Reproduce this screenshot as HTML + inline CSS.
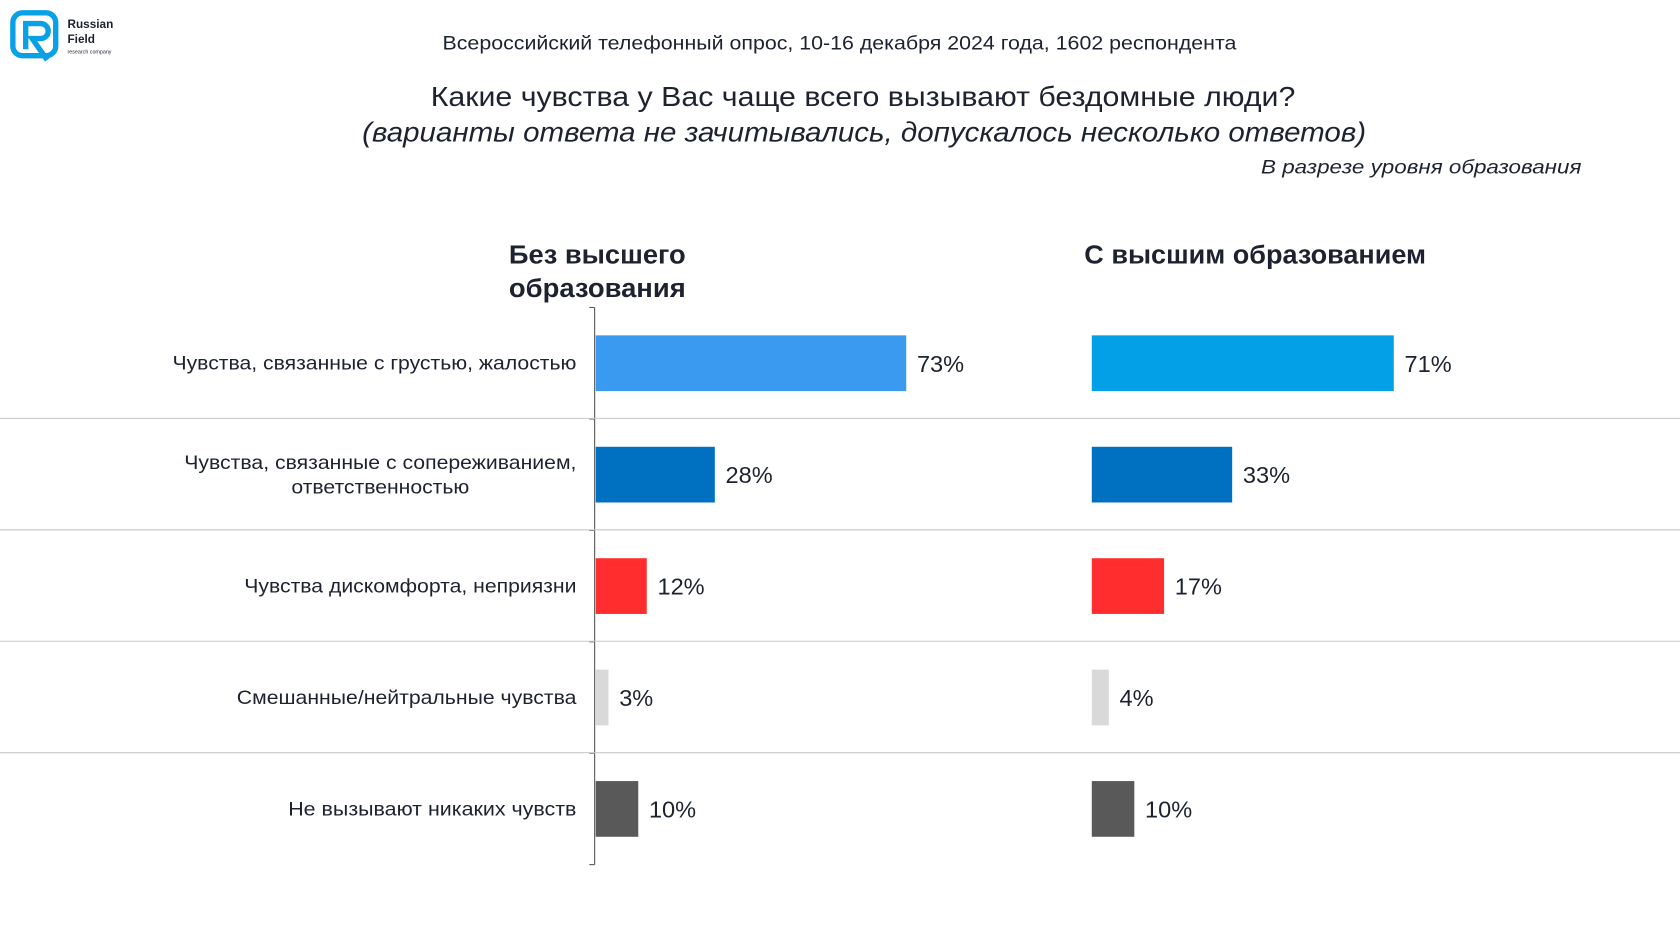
<!DOCTYPE html>
<html><head><meta charset="utf-8"><style>
html,body{margin:0;padding:0;background:#fff}
svg{display:block}
text{font-family:"Liberation Sans",sans-serif;fill:#1d2230}
</style></head><body>
<svg id="chart" width="1680" height="945" viewBox="0 0 1568 882" xmlns="http://www.w3.org/2000/svg">
<g>
<rect x="12" y="12" width="40" height="40" rx="9" fill="none" stroke="#0aa0e6" stroke-width="5"/>
<path d="M24 46 V22 H38 a7 7 0 0 1 0 14 H30 L44 56" fill="none" stroke="#0aa0e6" stroke-width="5"/>
<text x="63" y="26" font-size="11" font-weight="bold">Russian</text>
<text x="63" y="40" font-size="11" font-weight="bold">Field</text>
<text x="63" y="50" font-size="5">research company</text>
</g>
<text x="413" y="46" font-size="18" textLength="741" lengthAdjust="spacingAndGlyphs">Всероссийский телефонный опрос, 10-16 декабря 2024 года, 1602 респондента</text>
<text x="402" y="99" font-size="26" textLength="807" lengthAdjust="spacingAndGlyphs">Какие чувства у Вас чаще всего вызывают бездомные люди?</text>
<text x="338" y="132" font-size="26" font-style="italic" textLength="937" lengthAdjust="spacingAndGlyphs">(варианты ответа не зачитывались, допускалось несколько ответов)</text>
<text x="1177" y="162" font-size="18" font-style="italic" textLength="299" lengthAdjust="spacingAndGlyphs">В разрезе уровня образования</text>
<text x="475" y="246" font-size="24" font-weight="bold" textLength="165" lengthAdjust="spacingAndGlyphs">Без высшего</text>
<text x="475" y="277" font-size="24" font-weight="bold" textLength="165" lengthAdjust="spacingAndGlyphs">образования</text>
<text x="1012" y="246" font-size="24" font-weight="bold" textLength="319" lengthAdjust="spacingAndGlyphs">С высшим образованием</text>
<g id="plot"></g>
</svg>
<script>
const categories = ["Чувства, связанные с грустью, жалостью", "Чувства, связанные с сопереживанием,|ответственностью", "Чувства дискомфорта, неприязни", "Смешанные/нейтральные чувства", "Не вызывают никаких чувств"];
const noHigherValues = [73, 28, 12, 3, 10];
const higherValues = [71, 33, 17, 4, 10];
const leftColors = ["#3a9af0", "#0070c0", "#ff2d2d", "#d9d9d9", "#595959"];
const rightColors = ["#03a0e8", "#0070c0", "#ff2d2d", "#d9d9d9", "#595959"];
const labelWidths = [[377], [366, 166], [310], [317], [269]];

const NS = "http://www.w3.org/2000/svg";
const g = document.getElementById("plot");
const top0 = 287, rowH = 104, barH = 52, pxPer = 3.97;
const xL = 556, xR = 1019;
function rowY(i){ return top0 + i*rowH; }
function xScale(v){ return v*pxPer; }
function mk(tag, attrs){ const e=document.createElementNS(NS,tag); for(const k in attrs) e.setAttribute(k,attrs[k]); g.appendChild(e); return e; }

const axis = mk("line",{x1:555,y1:top0,x2:555,y2:rowY(categories.length),stroke:"#555","stroke-width":1});


for(let i=0;i<=categories.length;i++){
  const t = mk("line",{x1:550,y1:rowY(i),x2:555,y2:rowY(i),stroke:"#555","stroke-width":1});
  
  
  if(i>0 && i<categories.length){
    const s = mk("line",{x1:0,y1:rowY(i)-0.5,x2:1568,y2:rowY(i)-0.5,stroke:"#c8c8c8","stroke-width":1});
    
    
  }
}
categories.forEach((c,i)=>{
  const cy = rowY(i)+52;
  const lines = c.split("|");
  lines.forEach((ln,j)=>{
    const multi = lines.length>1;
    const t = mk("text",{x:multi?355:538,y:cy+6+(j-(lines.length-1)/2)*23,"font-size":18,"text-anchor":multi?"middle":"end",textLength:labelWidths[i][j],lengthAdjust:"spacingAndGlyphs"});
    t.textContent = ln;
    
    
  });
  [[xL,noHigherValues,leftColors,'left'],[xR,higherValues,rightColors,'right']].forEach(([x0,vals,cols,side])=>{
    const w = xScale(vals[i]);
    const b = mk("rect",{x:x0,y:cy-26,width:w,height:barH,fill:cols[i]});
    
    
    const l = mk("text",{x:x0+w+10,y:cy+8,"font-size":22});
    l.textContent = vals[i]+"%";
    
    
  });
});
</script>
</body></html>
